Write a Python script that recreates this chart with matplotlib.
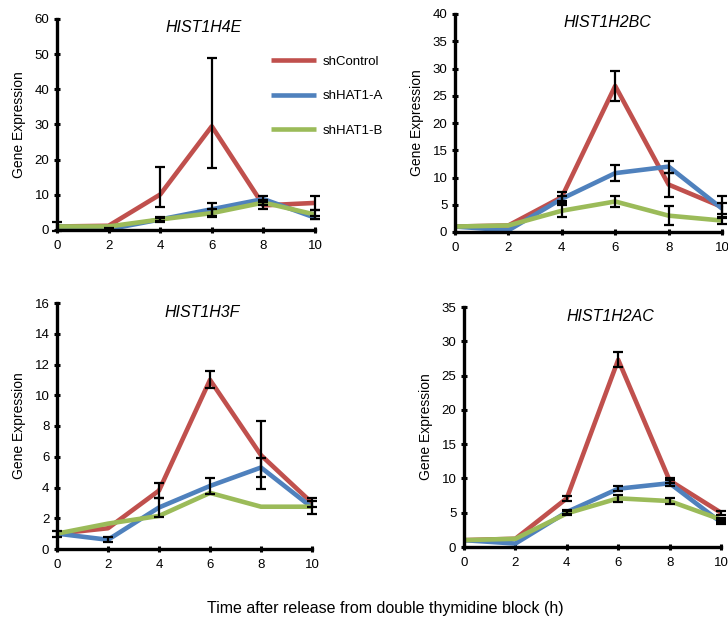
import matplotlib
matplotlib.use("Agg")
import matplotlib.pyplot as plt

plt.rcParams['font.family'] = ['Liberation Sans', 'DejaVu Sans']

times = [0, 2, 4, 6, 8, 10]
x_ticks = [0, 2, 4, 6, 8, 10]
series_names = ["shControl", "shHAT1-A", "shHAT1-B"]
colors = ["#C0504D", "#4F81BD", "#9BBB59"]

# HIST1H4E
h4e_ctrl = [1.0, 1.2, 10.1, 29.5, 7.0, 7.7]
h4e_ctrl_lo = [1.3, 0.0, 3.7, 12.0, 0.9, 2.1]
h4e_ctrl_hi = [1.3, 0.0, 7.9, 19.5, 0.9, 2.1]
h4e_a = [1.0, 0.2, 3.0, 5.9, 8.8, 3.5]
h4e_a_err = [0.0, 0.3, 0.7, 1.9, 0.9, 0.5]
h4e_b = [1.0, 1.0, 3.0, 4.8, 7.8, 4.4]
h4e_b_err = [0.0, 0.0, 0.5, 1.2, 0.7, 1.2]

# HIST1H2BC
h2bc_ctrl = [1.0, 1.2, 6.4, 26.8, 8.7, 4.6]
h2bc_ctrl_lo = [0.0, 0.0, 1.0, 2.7, 2.2, 2.0]
h2bc_ctrl_hi = [0.0, 0.0, 1.0, 2.7, 2.2, 2.0]
h2bc_a = [1.0, 0.3, 6.1, 10.8, 12.0, 4.3]
h2bc_a_err = [0.0, 0.0, 0.5, 1.5, 1.1, 1.0]
h2bc_b = [1.0, 1.2, 3.9, 5.6, 3.0, 2.1]
h2bc_b_err = [0.0, 0.0, 1.1, 1.0, 1.7, 0.6]

# HIST1H3F
h3f_ctrl = [1.0, 1.35, 3.8, 11.0, 6.1, 3.0]
h3f_ctrl_lo = [0.2, 0.0, 0.5, 0.55, 2.2, 0.3]
h3f_ctrl_hi = [0.2, 0.0, 0.5, 0.55, 2.2, 0.3]
h3f_a = [1.0, 0.6, 2.7, 4.1, 5.3, 2.7]
h3f_a_err = [0.0, 0.15, 0.6, 0.5, 0.6, 0.4]
h3f_b = [1.0, 1.65, 2.15, 3.65, 2.75, 2.75]
h3f_b_err = [0.0, 0.0, 0.0, 0.0, 0.0, 0.0]

# HIST1H2AC
h2ac_ctrl = [1.0, 1.2, 7.1, 27.3, 9.7, 5.0]
h2ac_ctrl_lo = [0.0, 0.0, 0.4, 1.1, 0.4, 0.3]
h2ac_ctrl_hi = [0.0, 0.0, 0.4, 1.1, 0.4, 0.3]
h2ac_a = [1.0, 0.5, 5.1, 8.5, 9.3, 3.6]
h2ac_a_err = [0.0, 0.0, 0.3, 0.4, 0.4, 0.3]
h2ac_b = [1.0, 1.2, 4.9, 7.1, 6.7, 4.0]
h2ac_b_err = [0.0, 0.0, 0.3, 0.5, 0.5, 0.3]

W, H = 728, 623
fig = plt.figure(figsize=(W / 100, H / 100), dpi=100)

def px_axes(x0, x1, ytop, ybot):
    return fig.add_axes([x0 / W, 1 - ybot / H, (x1 - x0) / W, (ybot - ytop) / H])

panels = [
    dict(title="HIST1H4E", box=(57, 315, 19, 230), ymax=60, ystep=10,
         data=[(h4e_ctrl, h4e_ctrl_lo, h4e_ctrl_hi), (h4e_a, h4e_a_err, h4e_a_err),
               (h4e_b, h4e_b_err, h4e_b_err)]),
    dict(title="HIST1H2BC", box=(455, 722, 14, 232), ymax=40, ystep=5,
         data=[(h2bc_ctrl, h2bc_ctrl_lo, h2bc_ctrl_hi), (h2bc_a, h2bc_a_err, h2bc_a_err),
               (h2bc_b, h2bc_b_err, h2bc_b_err)]),
    dict(title="HIST1H3F", box=(57, 312, 303, 549), ymax=16, ystep=2,
         data=[(h3f_ctrl, h3f_ctrl_lo, h3f_ctrl_hi), (h3f_a, h3f_a_err, h3f_a_err),
               (h3f_b, h3f_b_err, h3f_b_err)]),
    dict(title="HIST1H2AC", box=(464, 721, 307, 547), ymax=35, ystep=5,
         data=[(h2ac_ctrl, h2ac_ctrl_lo, h2ac_ctrl_hi), (h2ac_a, h2ac_a_err, h2ac_a_err),
               (h2ac_b, h2ac_b_err, h2ac_b_err)]),
]

axes = []
for p in panels:
    ax = px_axes(*p["box"])
    axes.append(ax)
    for (vals, lo, hi), c, name in zip(p["data"], colors, series_names):
        ax.plot(times, vals, color=c, lw=3.3, solid_capstyle='butt', clip_on=False,
                zorder=2, label=name)
    for (vals, lo, hi) in p["data"]:
        idx = [i for i in range(len(times)) if lo[i] + hi[i] > 0]
        if not idx:
            continue
        ax.errorbar([times[i] for i in idx], [vals[i] for i in idx],
                    yerr=[[lo[i] for i in idx], [hi[i] for i in idx]],
                    fmt='none', ecolor='black', elinewidth=1.6,
                    capsize=3.5, capthick=1.6, clip_on=False, zorder=3)
    ax.set_xlim(0, 10)
    ax.set_ylim(0, p["ymax"])
    ax.set_xticks(x_ticks)
    ax.set_yticks(list(range(0, p["ymax"] + 1, p["ystep"])))
    for s in ["top", "right"]:
        ax.spines[s].set_visible(False)
    for s in ["left", "bottom"]:
        ax.spines[s].set_linewidth(2.4)
        ax.spines[s].set_zorder(4)
    ax.tick_params(direction='inout', length=5, width=2.2, labelsize=9.5, pad=3,
                   colors='black')
    ax.tick_params(axis='x', pad=5)
    ax.set_ylabel("Gene Expression", fontsize=10, labelpad=6)
    ax.text(0.57, 0.96, p["title"], transform=ax.transAxes, ha='center', va='center',
            fontsize=11.5, style='italic')

leg = axes[0].legend(loc='upper left', bbox_to_anchor=(266 / W, 1 - 50 / H),
                     bbox_transform=fig.transFigure, frameon=False, fontsize=9.5,
                     handlelength=3.4, labelspacing=1.7, handletextpad=0.5,
                     borderaxespad=0)
for line in leg.get_lines():
    line.set_linewidth(3.3)

fig.text(385 / W, 1 - 608 / H, "Time after release from double thymidine block (h)",
         ha='center', va='center', fontsize=11.5)

fig.savefig("out.png", dpi=100)
